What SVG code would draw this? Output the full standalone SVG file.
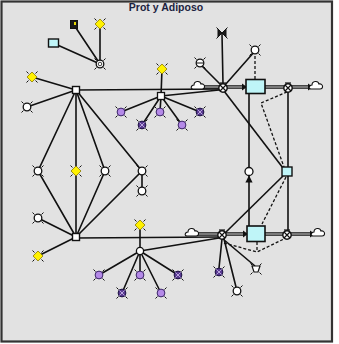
<svg xmlns="http://www.w3.org/2000/svg" xmlns:xlink="http://www.w3.org/1999/xlink" width="339" height="344" viewBox="0 0 339 344">
<style>
.ln{stroke:#111;stroke-width:1.6;fill:none}
.dl{stroke:#111;stroke-width:1.3;fill:none;stroke-dasharray:3 2}
.pipeo{stroke:#111;stroke-width:3.6;fill:none}
.pipei{stroke:#e2e2e2;stroke-width:1;fill:none}
.stock{fill:#bff5f8;stroke:#111;stroke-width:1.6}
.title{font-family:"Liberation Sans",Arial,sans-serif;font-size:10.5px;font-weight:bold;fill:#1c2240}
</style>
<defs>
<g id="spk"><path d="M-5.5,-5.5 l2,2 M5.5,-5.5 l-2,2 M-5.5,5.5 l2,-2 M5.5,5.5 l-2,-2" stroke="#111" stroke-width="1"/></g>
<g id="aux"><use xlink:href="#spk"/><circle r="3.8" fill="#fff" stroke="#111" stroke-width="1.3"/></g>
<g id="yel"><use xlink:href="#spk"/><path d="M0,-5 L5,0 L0,5 L-5,0Z" fill="#ffee00" stroke="#8a7a00" stroke-width="0.8"/><circle r="3" fill="#fff200"/></g>
<g id="pur"><use xlink:href="#spk"/><circle r="3.9" fill="#b58ae8" stroke="#3a2466" stroke-width="1"/></g>
<g id="purx"><use xlink:href="#spk"/><circle r="3.9" fill="#5a3a92" stroke="#1a1040" stroke-width="1"/><path d="M-2.6,-2.6 L2.6,2.6 M2.6,-2.6 L-2.6,2.6" stroke="#d0c0f0" stroke-width="0.8"/></g>
<g id="valve"><circle r="4.2" fill="#fff" stroke="#111" stroke-width="1.4"/><path d="M-3,-3 L3,3 M3,-3 L-3,3" stroke="#111" stroke-width="1.2"/><path d="M-3,-5 L3,-5" stroke="#111" stroke-width="1.2"/></g>
<g id="cloud"><path d="M-5,3 C-8,3 -7,-1 -4,-1 C-4,-5 2,-6 3,-2 C7,-3 8,3 4,3 Z" fill="#fff" stroke="#111" stroke-width="1.1"/></g>
<marker id="ar" viewBox="0 0 6 6" refX="5.5" refY="3" markerWidth="4.5" markerHeight="4.5" orient="auto"><path d="M0,0 L6,3 L0,6Z" fill="#111"/></marker>
</defs>
<rect x="0" y="0" width="339" height="344" fill="#fff"/>
<rect x="1.5" y="1.5" width="330.5" height="340" fill="#e2e2e2" stroke="#333" stroke-width="2.2"/>
<text class="title" x="166" y="11" text-anchor="middle">Prot y Adiposo</text>

<g id="connectors">
<path class="ln" d="M100,64 L74,25 M100,64 L100,25 M100,64 L53,43"/>
<path class="ln" d="M32,77 L76,90 M27,107 L76,90"/>
<path class="ln" d="M76,90 L221,89"/>
<path class="ln" d="M76,90 L38,171 L76,237"/>
<path class="ln" d="M76,90 L76,237"/>
<path class="ln" d="M76,90 L105,171 L76,237"/>
<path class="ln" d="M76,90 L142,171 L76,237"/>
<path class="ln" d="M142,171 L142,191"/>
<path class="ln" d="M38,218 L76,237 M76,237 L38,256"/>
<path class="ln" d="M76,238 L219,237"/>
<path class="ln" d="M162,69 L161,96 M161,96 L121,112 M161,96 L160,112 M161,96 L200,112 M161,96 L142,125 M161,96 L182,125 M161,96 L219,90"/>
<path class="ln" d="M140,225 L140,251 M140,251 L99,275 M140,251 L140,275 M140,251 L178,275 M140,251 L122,293 M140,251 L161,293 M140,251 L219,238"/>
<path class="ln" d="M222,34 L223,84 M200,64 L221,85 M255,51 L225,85"/>
<path class="dl" d="M255,56 L255,79"/>
<path class="ln" d="M249,94 L249,167"/>
<path class="ln" d="M249,226 L249,176" marker-end="url(#ar)"/>
<path class="ln" d="M288,91 L288,230"/>
<path class="ln" d="M224,91 L283,168"/>
<path class="dl" d="M287,92 L261,103 L284,167"/>
<path class="ln" d="M283,176 L225,233"/>
<path class="dl" d="M286,177 L262,224"/>
<path class="ln" d="M223,239 L255,266 M222,239 L219,268 M224,239 L236,287"/>
<path class="dl" d="M224,243 L257,252 L286,238 M257,242 L257,252"/>
<path class="pipeo" d="M203,87 L243,87"/><path class="pipei" d="M203,87 L243,87"/>
<path class="pipeo" d="M265,87 L309,87"/><path class="pipei" d="M265,87 L309,87"/>
<path class="pipeo" d="M197,234 L244,234"/><path class="pipei" d="M197,234 L244,234"/>
<path class="pipeo" d="M265,234 L311,234"/><path class="pipei" d="M265,234 L311,234"/>
<path d="M242,83.5 L247,87 L242,90.5Z M308,83.5 L313,87 L308,90.5Z M243,230.5 L248,234 L243,237.5Z M310,230.5 L315,234 L310,237.5Z" fill="#111"/>
</g>

<g id="n_ring"><use xlink:href="#aux" x="100" y="64"/><circle cx="100" cy="64" r="1.8" fill="none" stroke="#111" stroke-width="0.8"/></g>
<g id="n_blk"><rect x="70.5" y="20.5" width="7" height="8" fill="#1a1a1a" stroke="#111"/><rect x="74" y="22" width="2" height="3" fill="#e8d800"/></g>
<g id="n_y1"><use xlink:href="#yel" x="100" y="24"/></g>
<g id="n_cyan"><rect x="48.5" y="39" width="10" height="8" fill="#bff5f8" stroke="#111" stroke-width="1.4"/></g>
<g id="n_y2"><use xlink:href="#yel" x="32" y="77"/></g>
<g id="n_a1"><use xlink:href="#aux" x="27" y="107"/></g>
<g id="n_top"><rect x="72.5" y="86.5" width="7" height="7" fill="#fff" stroke="#111" stroke-width="1.4"/></g>
<g id="n_bot"><rect x="72.5" y="233.5" width="7" height="7" fill="#fff" stroke="#111" stroke-width="1.4"/></g>
<g id="n_l"><use xlink:href="#aux" x="38" y="171"/></g>
<g id="n_c"><use xlink:href="#yel" x="76" y="171"/></g>
<g id="n_r"><use xlink:href="#aux" x="105" y="171"/></g>
<g id="n_rr"><use xlink:href="#aux" x="142" y="171"/></g>
<g id="n_rr2"><use xlink:href="#aux" x="142" y="191"/></g>
<g id="n_l2"><use xlink:href="#aux" x="38" y="218"/></g>
<g id="n_y3"><use xlink:href="#yel" x="38" y="256"/></g>

<g id="n_tm"><rect x="157.5" y="92.5" width="7" height="7" fill="#fff" stroke="#111" stroke-width="1.3"/></g>
<g id="n_y4"><use xlink:href="#yel" x="162" y="69"/></g>
<g id="n_p1"><use xlink:href="#pur" x="121" y="112"/></g>
<g id="n_p2"><use xlink:href="#pur" x="160" y="112"/></g>
<g id="n_p3"><use xlink:href="#purx" x="200" y="112"/></g>
<g id="n_p4"><use xlink:href="#purx" x="142" y="125"/></g>
<g id="n_p5"><use xlink:href="#pur" x="182" y="125"/></g>

<g id="n_bm"><circle cx="140" cy="251" r="3.6" fill="#fff" stroke="#111" stroke-width="1.3"/></g>
<g id="n_y5"><use xlink:href="#yel" x="140" y="225"/></g>
<g id="n_q1"><use xlink:href="#pur" x="99" y="275"/></g>
<g id="n_q2"><use xlink:href="#pur" x="140" y="275"/></g>
<g id="n_q3"><use xlink:href="#purx" x="178" y="275"/></g>
<g id="n_q4"><use xlink:href="#purx" x="122" y="293"/></g>
<g id="n_q5"><use xlink:href="#pur" x="161" y="293"/></g>

<g id="n_v1top"><use xlink:href="#spk" x="222" y="33"/><path d="M218,29 L226,37 L226,29 L218,37Z" fill="#1a1a1a" stroke="#111"/></g>
<g id="n_g1"><use xlink:href="#aux" x="200" y="63"/><path d="M197,63 h6" stroke="#111"/></g>
<g id="n_g2"><use xlink:href="#aux" x="255" y="50"/></g>
<g id="cl1"><use xlink:href="#cloud" x="198" y="86"/></g>
<g id="v1"><use xlink:href="#valve" x="223" y="88"/></g>
<g id="stock1"><rect class="stock" x="246" y="79.5" width="19" height="14"/></g>
<g id="v2"><use xlink:href="#valve" x="288" y="88"/></g>
<g id="cl2"><use xlink:href="#cloud" x="316" y="86"/></g>

<g id="n_mid"><circle cx="249" cy="171.5" r="4" fill="#fff" stroke="#111" stroke-width="1.3"/></g>
<g id="stock_s"><rect x="282" y="167" width="10" height="9" fill="#bff5f8" stroke="#111" stroke-width="1.4"/></g>

<g id="cl3"><use xlink:href="#cloud" x="192" y="233"/></g>
<g id="v3"><use xlink:href="#valve" x="222" y="235"/></g>
<g id="stock2"><rect class="stock" x="247" y="226" width="18" height="15.5"/></g>
<g id="v4"><use xlink:href="#valve" x="287" y="235"/></g>
<g id="cl4"><use xlink:href="#cloud" x="318" y="233"/></g>
<g id="n_b1"><use xlink:href="#spk" x="256" y="269"/><path d="M252,266 h8 l-2,6 h-4Z" fill="#fff" stroke="#111" stroke-width="1.2"/></g>
<g id="n_b2"><use xlink:href="#purx" x="219" y="272"/></g>
<g id="n_b3"><use xlink:href="#aux" x="237" y="291"/></g>
</svg>
